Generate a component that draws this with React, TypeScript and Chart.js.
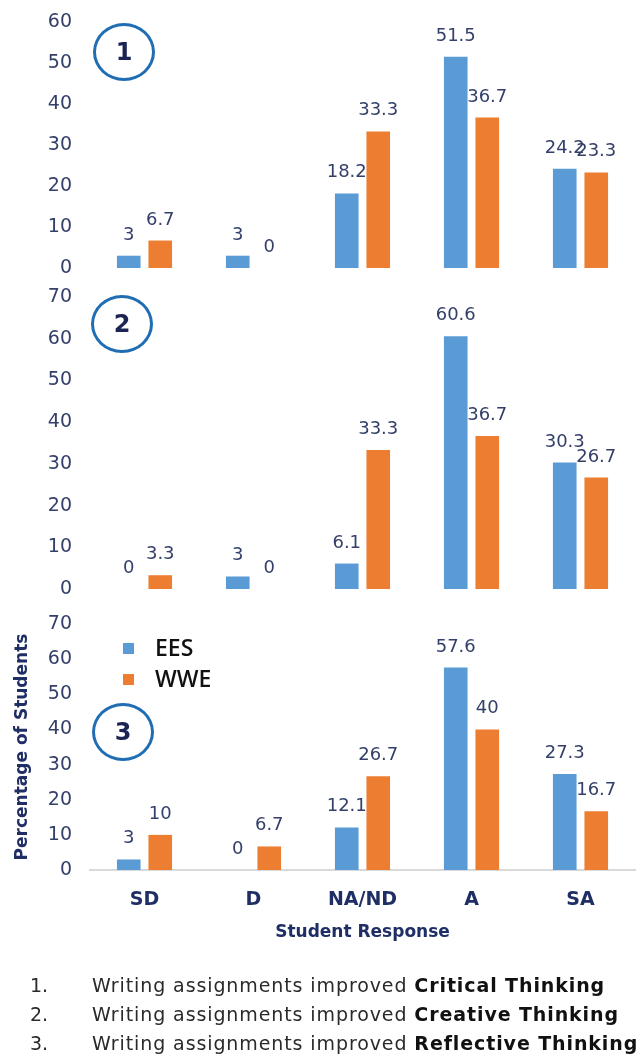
import React, { useEffect, useRef } from 'react';
import { Chart, registerables } from 'chart.js';

Chart.register(...registerables);

// ---------- data ----------
const categories = ['SD', 'D', 'NA/ND', 'A', 'SA'];
const seriesNames = ['EES', 'WWE'];
const ees1 = [3, 3, 18.2, 51.5, 24.2];
const wwe1 = [6.7, 0, 33.3, 36.7, 23.3];
const ees2 = [0, 3, 6.1, 60.6, 30.3];
const wwe2 = [3.3, 0, 33.3, 36.7, 26.7];
const ees3 = [3, 0, 12.1, 57.6, 27.3];
const wwe3 = [10, 6.7, 26.7, 40, 16.7];
const yMaxes = [60, 70, 70];
const panelNumbers = ['1', '2', '3'];
const statementPrefix = 'Writing assignments improved ';
const statementTopics = ['Critical Thinking', 'Creative Thinking', 'Reflective Thinking'];
const xTitle = 'Student Response';
const yTitle = 'Percentage of Students';

// ---------- style ----------
const BLUE = '#5B9BD5';
const ORANGE = '#ED7D31';
const TICK_COLOR = '#34406a';
const NAVY = '#1f2f66';
const FONT = '"DejaVu Sans", sans-serif';

const valueLabels = {
  id: 'valueLabels',
  afterDatasetsDraw(chart: any) {
    const ctx = chart.ctx;
    ctx.save();
    ctx.font = `18px ${FONT}`;
    ctx.fillStyle = TICK_COLOR;
    ctx.textAlign = 'center';
    ctx.textBaseline = 'alphabetic';
    chart.data.datasets.forEach((ds: any, i: number) => {
      const meta = chart.getDatasetMeta(i);
      meta.data.forEach((bar: any, j: number) => {
        ctx.fillText(String(ds.data[j]), bar.x, bar.y - 16);
      });
    });
    ctx.restore();
  },
};

const innerLegend = {
  id: 'innerLegend',
  afterDraw(chart: any) {
    const { ctx, chartArea } = chart;
    ctx.save();
    chart.data.datasets.forEach((ds: any, i: number) => {
      const y = chartArea.top + 24 + i * 31;
      ctx.fillStyle = ds.backgroundColor;
      ctx.fillRect(chartArea.left + 33, y - 5, 11, 11);
      ctx.fillStyle = '#111111';
      ctx.font = '600 23px "Open Sans", sans-serif';
      ctx.textAlign = 'left';
      ctx.textBaseline = 'middle';
      ctx.fillText(ds.label, chartArea.left + 65, y + 1);
    });
    ctx.restore();
  },
};

type PanelProps = {
  idx: number;
  ees: number[];
  wwe: number[];
  top: number;
  height: number;
  padTop: number;
  padBottom: number;
  showX: boolean;
};

function Panel({ idx, ees, wwe, top, height, padTop, padBottom, showX }: PanelProps) {
  const ref = useRef<HTMLCanvasElement>(null);
  useEffect(() => {
    if (!ref.current) return;
    const chart = new Chart(ref.current, {
      type: 'bar',
      data: {
        labels: categories,
        datasets: [
          { label: seriesNames[0], data: ees, backgroundColor: BLUE },
          { label: seriesNames[1], data: wwe, backgroundColor: ORANGE },
        ],
      },
      options: {
        animation: false,
        responsive: false,
        maintainAspectRatio: false,
        categoryPercentage: 0.578,
        barPercentage: 0.75,
        layout: { padding: { top: padTop, bottom: padBottom, left: 0, right: 2 } },
        plugins: {
          legend: { display: false },
          tooltip: { enabled: false },
          title: { display: false },
        },
        scales: {
          x: {
            display: showX,
            grid: { display: false, drawTicks: false },
            border: { display: showX, color: '#d9d9d9', width: 2 },
            ticks: {
              color: NAVY,
              font: { family: FONT, size: 19, weight: 'bold' },
              padding: 19,
            },
            title: {
              display: showX,
              text: xTitle,
              color: NAVY,
              font: { family: FONT, size: 17, weight: 'bold' },
              padding: { top: 0, bottom: 19 },
            },
            afterFit: (s: any) => {
              s.height = showX ? 92 : 0;
            },
          },
          y: {
            min: 0,
            max: yMaxes[idx],
            grid: { display: false, drawTicks: false },
            border: { display: false },
            ticks: {
              stepSize: 10,
              autoSkip: false,
              color: TICK_COLOR,
              font: { family: FONT, size: 19 },
              padding: 18,
            },
            title: {
              display: showX,
              text: yTitle,
              color: NAVY,
              font: { family: FONT, size: 17, weight: 'bold' },
              padding: { top: 12, bottom: 0 },
            },
            afterFit: (s: any) => {
              s.width = 90;
            },
          },
        },
      },
      plugins: showX ? [valueLabels, innerLegend] : [valueLabels],
    } as any);
    return () => chart.destroy();
  }, []);
  return (
    <canvas
      ref={ref}
      width={637}
      height={height}
      style={{ position: 'absolute', left: 0, top, width: 637, height }}
    />
  );
}

function Circle({ cx, cy, text }: { cx: number; cy: number; text: string }) {
  return (
    <div
      style={{
        position: 'absolute',
        left: cx - 31,
        top: cy - 29,
        width: 62,
        height: 58,
        boxSizing: 'border-box',
        border: '3px solid #1f6db3',
        borderRadius: '50%',
        display: 'flex',
        alignItems: 'center',
        justifyContent: 'center',
        fontFamily: FONT,
        fontWeight: 'bold',
        fontSize: 24,
        color: '#1b2452',
      }}
    >
      {text}
    </div>
  );
}

export default function App() {
  // chart areas: panel 1 y 22-268, panel 2 y 297-589, panel 3 y 624-870
  const panels = [
    { ees: ees1, wwe: wwe1, top: -12, height: 312, padTop: 34, padBottom: 32, showX: false },
    { ees: ees2, wwe: wwe2, top: 263, height: 358, padTop: 34, padBottom: 32, showX: false },
    { ees: ees3, wwe: wwe3, top: 590, height: 372, padTop: 34, padBottom: 0, showX: true },
  ];
  const circles = [
    { cx: 124, cy: 52 },
    { cx: 122, cy: 324 },
    { cx: 123, cy: 732 },
  ];
  return (
    <div style={{ position: 'absolute', left: 0, top: 0, width: 637, height: 1064, background: '#fff', overflow: 'hidden' }}>
      {panels.map((p, i) => (
        <Panel key={i} idx={i} {...p} />
      ))}
      {circles.map((c, i) => (
        <Circle key={i} cx={c.cx} cy={c.cy} text={panelNumbers[i]} />
      ))}
      <div style={{ position: 'absolute', left: 0, top: 971, width: 637, fontFamily: FONT, fontSize: 19, color: '#2a2a2a' }}>
        {statementTopics.map((t, i) => (
          <div key={i} style={{ position: 'relative', height: 29, lineHeight: '29px', whiteSpace: 'nowrap' }}>
            <span style={{ position: 'absolute', left: 30 }}>{`${i + 1}.`}</span>
            <span style={{ position: 'absolute', left: 92, letterSpacing: '0.9px' }}>
              {statementPrefix}
              <b style={{ color: '#111' }}>{t}</b>
            </span>
          </div>
        ))}
      </div>
    </div>
  );
}
